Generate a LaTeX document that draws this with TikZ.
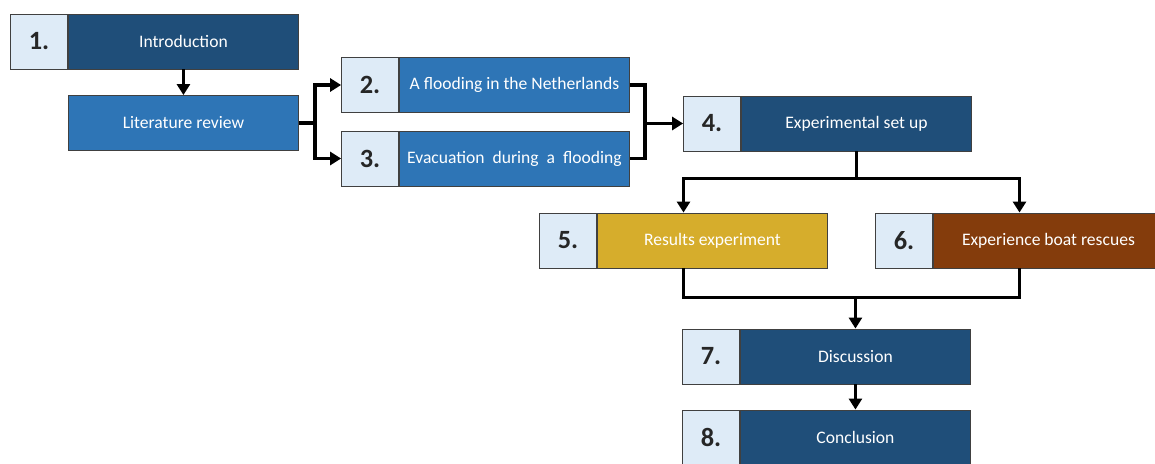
\documentclass[tikz,border=0pt]{standalone}
\usepackage{fontspec}
\setmainfont{Carlito}
\usetikzlibrary{arrows.meta,positioning,calc}
\definecolor{darkblue}{HTML}{1F4E79}
\definecolor{midblue}{HTML}{2E75B6}
\definecolor{cellblue}{HTML}{DEEBF7}
\definecolor{goldbox}{HTML}{D6AD2C}
\definecolor{brownbox}{HTML}{843C0C}
\definecolor{edgegray}{HTML}{404040}

\begin{document}
\begin{tikzpicture}[>={Triangle[width=.26cm,length=.22cm]}, line width=2pt,
    mainbox/.style={draw=edgegray, line width=.5pt, minimum width=4.6cm, minimum height=1.1cm,
      inner sep=0pt, text=white, font=\fontsize{10}{12}\selectfont, anchor=west},
    numcell/.style={draw=edgegray, line width=.5pt, fill=cellblue, minimum width=1.14cm,
      minimum height=1.1cm, inner sep=0pt, text=black!85,
      font=\bfseries\fontsize{15}{17}\selectfont, left=0pt of #1}]
    \clip (0,0) rectangle (23.1,9.26);
    % boxes
    \node[mainbox, fill=darkblue] (t1) at (1.36,8.43) {Introduction};
    \node[numcell=t1] (n1) {1.};
    \node[mainbox, fill=midblue] (lit) at (1.36,6.80) {Literature review};
    \node[mainbox, fill=midblue] (t2) at (7.98,7.56) {A flooding in the Netherlands};
    \node[numcell=t2] (n2) {2.};
    \node[mainbox, fill=midblue] (t3) at (7.98,6.09) {Evacuation \ during \ a \ flooding};
    \node[numcell=t3] (n3) {3.};
    \node[mainbox, fill=darkblue] (t4) at (14.82,6.79) {Experimental set up};
    \node[numcell=t4] (n4) {4.};
    \node[mainbox, fill=goldbox] (t5) at (11.94,4.45) {Results experiment};
    \node[numcell=t5] (n5) {5.};
    \node[mainbox, fill=brownbox] (t6) at (18.66,4.45) {Experience boat rescues};
    \node[numcell=t6] (n6) {6.};
    \node[mainbox, fill=darkblue] (t7) at (14.80,2.13) {Discussion};
    \node[numcell=t7] (n7) {7.};
    \node[mainbox, fill=darkblue] (t8) at (14.80,0.51) {Conclusion};
    \node[numcell=t8] (n8) {8.};
    % helper points
    \coordinate (split) at ($(lit.east)+(.32,0)$);
    \coordinate (merge) at ($(t2.east)+(.30,0)$);
    \coordinate (fork) at ($(t4.south)+(0,-.54)$);
    \coordinate (c5) at ($(n5.west)!.5!(t5.east)$);
    \coordinate (c6) at ($(n6.west)!.5!(t6.east)$);
    \coordinate (join) at ($(t7.north)+(0,.62)$);
    % connectors
    \draw[->] (t1.south) -- (lit.north);
    \draw[->] (lit.east) -- (split) |- (n2.west);
    \draw[->] (split) |- (n3.west);
    \draw (t2.east) -- (merge) |- (t3.east);
    \draw[->] (merge |- n4.west) -- (n4.west);
    \draw[->] (t4.south) -- (fork) -| (c5 |- t5.north);
    \draw[->] (fork) -| (c6 |- t6.north);
    \draw (c5 |- t5.south) |- (c6 |- join) -- (c6 |- t6.south);
    \draw[->] (join) -- (t7.north);
    \draw[->] (t7.south) -- (t8.north);
\end{tikzpicture}
\end{document}
